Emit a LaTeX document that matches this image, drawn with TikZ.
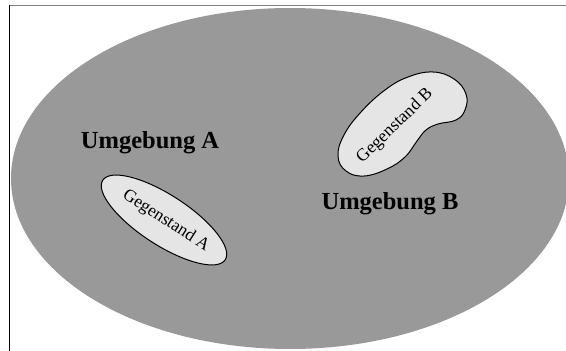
\documentclass[tikz,border=0pt]{standalone}
\usepackage{fontspec}
\setmainfont{Liberation Serif}
\definecolor{umgebung}{gray}{0.6}
\definecolor{gegenstand}{gray}{0.9}
\definecolor{rahmen}{gray}{0.5}
\begin{document}
\begin{tikzpicture}[x=1pt,y=-1pt,
  gegenstand/.style={draw=black, fill=gegenstand, line width=1pt},
  titel/.style={font=\bfseries\fontsize{24.5}{28}\selectfont},
  beschrift/.style={font=\fontsize{17.5}{20}\selectfont, inner sep=0pt}]
\useasboundingbox (0,0) rectangle (566,351);

% Rahmen
\draw[rahmen, line width=1.5pt] (9,5.5) -- (566,5.5);
\draw[black, line width=1.5pt] (9.5,5) -- (9.5,351);

% Umgebung
\fill[umgebung] (290,178.5) ellipse [x radius=279, y radius=170.5];

% Gegenstand A
\draw[gegenstand, rotate around={-33:(164,220)}] (164,220) ellipse [x radius=73, y radius=25];

% Gegenstand B
\draw[gegenstand] plot[smooth cycle, tension=0.7] coordinates {
  (346,171) (338,156) (344,135) (361,112) (385,90) (408,77) (433,72)
  (454,79) (466,94) (465,110) (456,120) (438,124) (426,130) (417,141)
  (405,157) (387,169) (364,176)};

% Texte
\node[titel] (umgebungA) at (150,143) {Umgebung A};
\node[titel] (umgebungB) at (390,204) {Umgebung B};
\node[beschrift, rotate=-33] (gegenstandA) at (166,221) {Gegenstand A};
\node[beschrift, rotate=44] (gegenstandB) at (395,126) {Gegenstand B};
\end{tikzpicture}
\end{document}
